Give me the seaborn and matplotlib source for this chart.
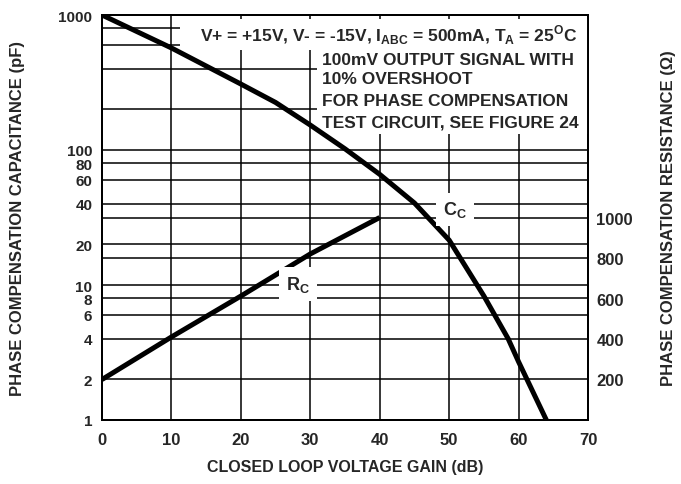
import matplotlib
matplotlib.use("Agg")
import matplotlib.pyplot as plt
from matplotlib.patches import Rectangle
import seaborn as sns
import pandas as pd

# ==========================================
# Data
# ==========================================
cc_gain = [0, 10, 20, 25, 30, 35, 40, 45, 50, 55, 58.5, 60, 64]
cc_pf = [1000, 570, 308, 225, 153, 102, 66, 40.5, 21.5, 8.3, 4.0, 2.7, 1.0]

rc_gain = [0, 10, 20, 30, 40]
rc_ohm = [200, 410, 612, 820, 1000]

left_ticks = [1, 2, 4, 6, 8, 10, 20, 40, 60, 80, 100, 200, 400, 600, 800, 1000]
left_labels = ["1", "2", "4", "6", "8", "10", "20", "40", "60", "80", "100", "", "", "", "", "1000"]
right_ticks = [200, 400, 600, 800, 1000]
right_extra_grid = [800, 1000]
x_ticks = [0, 10, 20, 30, 40, 50, 60, 70]

cond_line = r"V+ = +15V, V- = -15V, I$_{\mathbf{ABC}}$ = 500mA, T$_{\mathbf{A}}$ = 25$^{\mathbf{O}}$C"
note_lines = ["100mV OUTPUT SIGNAL WITH", "10% OVERSHOOT",
              "FOR PHASE COMPENSATION", "TEST CIRCUIT, SEE FIGURE 24"]

cc_df = pd.DataFrame({"gain": cc_gain, "cap": cc_pf})
rc_df = pd.DataFrame({"gain": rc_gain, "res": rc_ohm})

# ==========================================
# Style
# ==========================================
sns.set_style("white")
plt.rcParams["font.family"] = ["Liberation Sans", "DejaVu Sans"]
plt.rcParams["font.weight"] = "bold"
plt.rcParams["mathtext.fontset"] = "custom"
plt.rcParams["mathtext.rm"] = "Liberation Sans:bold"
plt.rcParams["mathtext.bf"] = "Liberation Sans:bold"

fig = plt.figure(figsize=(6.81, 4.85), dpi=100)
ax = fig.add_axes([102 / 681, 1 - 421 / 485, 486 / 681, 405 / 485])
ax2 = ax.twinx()
ax.set_zorder(ax2.get_zorder() + 1)
ax.patch.set_visible(False)

# Curves
sns.lineplot(data=rc_df, x="gain", y="res", ax=ax2, color="black", linewidth=3.6,
             zorder=4, solid_capstyle="butt")
sns.lineplot(data=cc_df, x="gain", y="cap", ax=ax, color="black", linewidth=3.6,
             zorder=4, solid_capstyle="butt", solid_joinstyle="round")

# Axes setup
ax.set_yscale("log")
ax.set_ylim(1, 1000)
ax.set_xlim(0, 70)
ax.set_yticks(left_ticks)
ax.set_yticklabels(left_labels)
ax.yaxis.set_minor_locator(plt.NullLocator())
ax.set_xticks(x_ticks)
ax2.set_ylim(0, 2000)
ax2.set_yticks(right_ticks)

ax.tick_params(axis="x", length=0, labelsize=12, pad=9)
ax.tick_params(axis="y", length=0, labelsize=11, pad=7)
ax2.tick_params(axis="y", length=0, labelsize=12, pad=6)

ax.grid(True, color="black", linewidth=1.1)
ax2.grid(False)
for v in right_extra_grid:
    ax2.axhline(v, color="black", linewidth=1.1, zorder=0.5)
for a in (ax, ax2):
    for s in a.spines.values():
        s.set_color("black")
        s.set_linewidth(1.4)
        s.set_zorder(6)

ax.set_xlabel("CLOSED LOOP VOLTAGE GAIN (dB)", fontsize=11.5, fontweight="bold", labelpad=8)
ax.set_ylabel("PHASE COMPENSATION CAPACITANCE (pF)", fontsize=12, fontweight="bold", labelpad=24)
ax2.set_ylabel("PHASE COMPENSATION RESISTANCE (Ω)", fontsize=12, fontweight="bold", labelpad=20)

# White boxes behind the notes
ax.add_patch(Rectangle((0.1605, 0.9136), 0.8395, 0.0764, transform=ax.transAxes,
                       facecolor="white", edgecolor="none", zorder=3))
ax.add_patch(Rectangle((0.4424, 0.7060), 0.5576, 0.2076, transform=ax.transAxes,
                       facecolor="white", edgecolor="none", zorder=3))

ax.text(0.5905, 0.953, cond_line, transform=ax.transAxes, ha="center", va="center",
        fontsize=12.5, fontweight="bold", zorder=5)
for yy, line in zip([0.8889, 0.8430, 0.7877, 0.7358], note_lines):
    ax.text(0.4527, yy, line, transform=ax.transAxes, ha="left", va="center",
            fontsize=12.5, fontweight="bold", zorder=5)

# Curve labels
box = dict(facecolor="white", edgecolor="none", pad=5)
ax.text(0.7263, 0.52, r"C$_{\mathbf{C}}$", transform=ax.transAxes, ha="center", va="center",
        fontsize=13, fontweight="bold", bbox=box, zorder=5)
ax.text(0.4033, 0.336, r"R$_{\mathbf{C}}$", transform=ax.transAxes, ha="center", va="center",
        fontsize=13, fontweight="bold", bbox=box, zorder=5)

fig.savefig("out.png", dpi=100)
